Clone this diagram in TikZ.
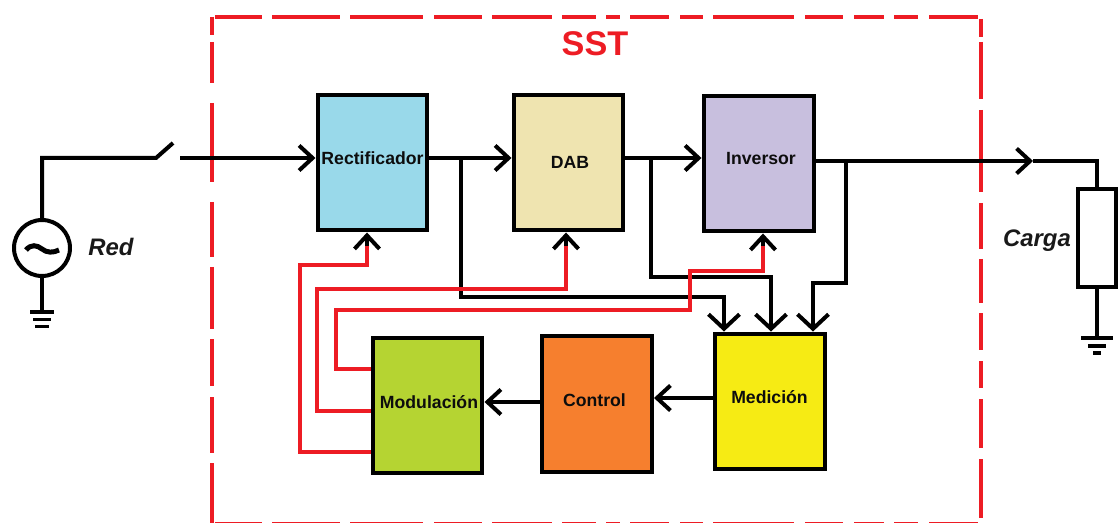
\documentclass[tikz,border=0pt]{standalone}
\usepackage{fontspec}
\setmainfont{Liberation Sans}
\usetikzlibrary{arrows.meta}
\definecolor{rojo}{RGB}{237,28,36}
\definecolor{R}{RGB}{153,217,234}
\definecolor{D}{RGB}{239,228,176}
\definecolor{I}{RGB}{200,191,222}
\definecolor{M}{RGB}{181,212,50}
\definecolor{C}{RGB}{246,127,46}
\definecolor{E}{RGB}{246,235,20}
\tikzset{
  hilo/.style={line width=.08cm,black},
  hilorojo/.style={line width=.08cm,rojo},
  flecha/.style={hilo,-{Straight Barb[length=.27cm,width=.5cm,line width=.08cm]}},
  flechaancha/.style={hilo,-{Straight Barb[length=.29cm,width=.62cm,line width=.08cm]}},
  bloque/.style={draw,hilo,minimum width=2.2cm,minimum height=2.72cm,inner sep=0pt},
  etiq/.style={font=\fontsize{10.05}{12}\selectfont\bfseries,text=black!95},
  nombre/.style={font=\fontsize{13.6}{15}\selectfont\bfseries\itshape,text=black!90}
}
\newcommand{\drawground}[4]{
  \draw[hilo] (#1)++(-#2,0)--++(2*#2,0);
  \draw[hilo] (#1)++(-#3,7.5)--++(2*#3,0);
  \draw[hilo] (#1)++(-#4,14.5)--++(2*#4,0);
}
\begin{document}
\begin{tikzpicture}[x=.02cm,y=-.02cm]
\useasboundingbox (0,0) rectangle (1118,523);
% marco
\foreach \a/\b in {215/262,272/340,350/423,434/482,492/552,562/596,606/620,630/669,680/703,713/794,805/843,854/884,894/918,929/978}{
  \draw[hilorojo] (\a,17)--(\b,17);
  \draw[hilorojo] (\a,524)--(\b,524);
}
\foreach \a/\b in {17/35,42/83,103/182,202/257,267/329,339/386,397/453,463/523}{
  \draw[hilorojo] (212,\a)--(212,\b);
}
\foreach \a/\b in {19/37,42/99,110/192,203/249,259/303,313/350,361/388,399/448,459/518}{
  \draw[hilorojo] (981,\a)--(981,\b);
}
\node[text=rojo,font=\fontsize{19.5}{21}\selectfont\bfseries] (sst) at (595,44) {SST};
% bloques
\node[bloque,fill=R,label={[etiq,xshift=0cm,yshift=.09cm]center:Rectificador}] (rect) at (372.5,162.5) {};
\node[bloque,fill=D,label={[etiq,xshift=.03cm,yshift=0cm]center:DAB}] (dab) at (568.5,162.5) {};
\node[bloque,fill=I,label={[etiq,xshift=.05cm,yshift=.09cm]center:Inversor}] (inv) at (758.5,163.5) {};
\node[bloque,fill=M,label={[etiq,xshift=.03cm,yshift=.07cm]center:Modulación}] (mod) at (427.5,405.5) {};
\node[bloque,fill=C,label={[etiq,xshift=-.05cm,yshift=.08cm]center:Control}] (ctrl) at (597,404) {};
\node[bloque,fill=E,label={[etiq,yshift=.09cm]center:Medición}] (med) at (769.5,401.5) {};
% fuente
\node[draw,circle,hilo,minimum size=1.12cm,inner sep=0pt] (fuente) at (42,248) {};
\draw[hilo,line width=.1cm] (26,250) .. controls (31,244) and (37,245) .. (42,249) .. controls (47,253) and (53,253) .. (59,250);
\node[nombre] (red) at (111,247) {Red};
\coordinate (tierraA) at (42,312);
\draw[hilo] (fuente.south)--(tierraA);
\drawground{tierraA}{12}{9}{7}
% carga
\node[draw,hilo,minimum width=.76cm,minimum height=1.96cm,inner sep=0pt] (carga) at (1097,238) {};
\node[nombre] (cargatxt) at (1037,241) {Carga};
\coordinate (tierraB) at (1097,338);
\draw[hilo] (carga.south)--(tierraB);
\drawground{tierraB}{16}{9}{4}
% linea principal
\coordinate (intA) at (156,158);
\coordinate (intB) at (173,143);
\coordinate (intC) at (180,158);
\coordinate (salida) at (815,161);
\coordinate (medio) at (1033,161);
\draw[hilo] (fuente.north)|-(intA)--(intB);
\draw[flecha] (intC)--(intC-|rect.west);
\draw[flecha] (rect.east|-intA)--(intA-|dab.west);
\draw[flecha] (dab.east|-intA)--(intA-|inv.west);
\draw[flecha] (salida)--(medio);
\draw[hilo] (medio)-|(carga.north);
% medicion
\coordinate (tomaA) at (461,158);
\coordinate (tomaB) at (651,158);
\coordinate (tomaC) at (846,161);
\draw[flechaancha] (tomaA)|-(724,297)--(724,297|-med.north);
\draw[flechaancha] (tomaB)|-(771,277)--(771,277|-med.north);
\draw[flechaancha] (tomaC)|-(813,283)--(813,283|-med.north);
\draw[flecha] (med.west|-0,398)--(ctrl.east|-0,398);
\draw[flecha] (ctrl.west|-0,402)--(mod.east|-0,402);
% modulacion
\coordinate (pwmA) at (367,246);
\coordinate (pwmB) at (566,246);
\coordinate (pwmC) at (763,246);
\draw[hilorojo] (mod.west|-0,452)-|(300,265)-|(pwmA);
\draw[hilorojo] (mod.west|-0,411)-|(317,289)-|(pwmB);
\draw[hilorojo] (mod.west|-0,369)-|(336,310)-|(690,271)-|(pwmC);
\draw[flecha] (pwmA)--(pwmA|-rect.south);
\draw[flecha] (pwmB)--(pwmB|-dab.south);
\draw[flecha] (pwmC)--(pwmC|-inv.south);
\end{tikzpicture}
\end{document}
